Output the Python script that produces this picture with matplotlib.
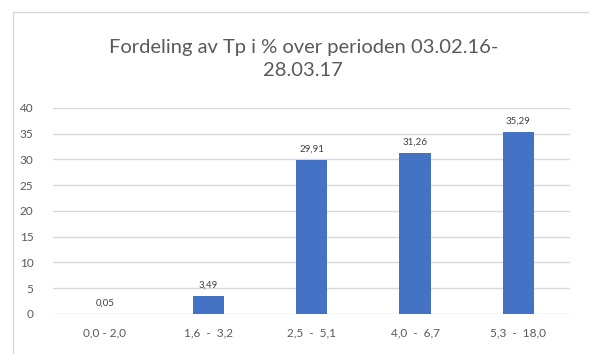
import matplotlib
matplotlib.use("Agg")
import matplotlib.pyplot as plt
from matplotlib.patches import Rectangle

categories = ["0,0 - 2,0", "1,6  -  3,2", "2,5  -  5,1", "4,0  -  6,7", "5,3  -  18,0"]
values = [0.05, 3.49, 29.91, 31.26, 35.29]
value_labels = ["0,05", "3,49", "29,91", "31,26", "35,29"]

plt.rcParams["font.family"] = ["Lato", "DejaVu Sans"]

fig = plt.figure(figsize=(5.89, 3.54), dpi=100)
ax = fig.add_axes([0.09, 0.113, 0.878, 0.582])

# chart frame like the Excel chart area
fig.patches.append(Rectangle((13 / 589, -0.05), 1.0, 1 - 12 / 354 + 0.05,
                             transform=fig.transFigure, fill=False,
                             edgecolor="#d9d9d9", linewidth=1.0))

x = list(range(len(categories)))
ax.bar(x, values, width=0.3, color="#4472C4", zorder=3)

for xi, v, lab in zip(x, values, value_labels):
    ax.text(xi, v + 1.2, lab, ha="center", va="bottom", fontsize=7, color="#404040")

ax.set_xlim(-0.5, len(categories) - 0.5)
ax.set_ylim(0, 40)
ax.set_yticks(range(0, 41, 5))
ax.set_xticks(x)
ax.set_xticklabels(categories)
ax.tick_params(axis="both", length=0, labelsize=8.5, colors="#595959")
ax.tick_params(axis="x", pad=10)
ax.tick_params(axis="y", pad=14)
ax.grid(axis="y", color="#d9d9d9", linewidth=1.0, zorder=0)
for s in ax.spines.values():
    s.set_visible(False)

fig.text(0.515, 0.833, "Fordeling av Tp i % over perioden 03.02.16-\n28.03.17",
         ha="center", va="center", fontsize=14.5, color="#595959", linespacing=1.45)

fig.savefig("out.png", dpi=100)
